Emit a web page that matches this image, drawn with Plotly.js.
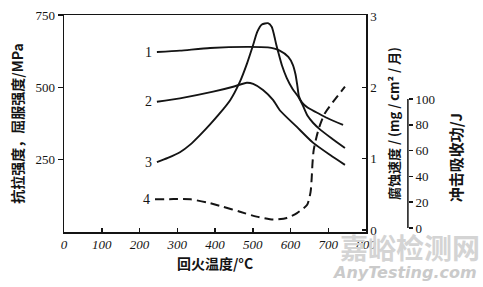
<!DOCTYPE html>
<html>
<head>
<meta charset="utf-8">
<script src="https://cdn.plot.ly/plotly-3.0.1.min.js"></script>
<style>html,body{margin:0;padding:0;background:#fff;}#chart{width:483px;height:287px;}</style>
</head>
<body>
<div id="chart"></div>
<script>
// Curve 1: tensile strength (MPa, left axis)
const temp1 = [246, 307, 387, 485, 540, 570, 594, 606, 613, 618, 622, 630, 645, 668, 697, 739];
const tensile = [622, 627, 636, 640, 638, 628, 605, 578, 545, 505, 470, 448, 430, 414, 394, 370];
// Curve 2: yield strength (MPa, left axis)
const temp2 = [246, 307, 395, 448, 484, 501, 527, 554, 572, 616, 660, 705, 744];
const yieldStr = [450, 462, 485, 502, 516, 512, 491, 456, 420, 364, 308, 266, 232];
// Curve 3: corrosion rate (mg/cm²/month, right axis)
const temp3 = [246, 275, 307, 335, 360, 385, 410, 440, 466, 485, 500, 512, 524, 540, 550, 556, 562, 568, 577, 590, 605, 620, 632, 645, 660, 680, 710, 744];
const corrosion = [0.95, 1.01, 1.09, 1.20, 1.33, 1.47, 1.62, 1.82, 2.08, 2.34, 2.58, 2.78, 2.88, 2.90, 2.85, 2.74, 2.60, 2.48, 2.31, 2.13, 1.98, 1.87, 1.75, 1.60, 1.50, 1.40, 1.28, 1.15];
// Curve 4: impact energy (J, third axis)
const temp4 = [241, 290, 335, 378, 421, 466, 510, 554, 590, 617, 644, 653, 656, 658, 661, 669, 678, 691, 713, 744];
const impact = [22.2, 22.4, 22.2, 19.9, 16.5, 12.6, 8.8, 6.5, 7.8, 11.6, 18, 28, 39, 50, 60, 71, 80, 89, 98, 109.5];

const xTicks = [0, 100, 200, 300, 400, 500, 600, 700, 800];
const yTicks = [250, 500, 750];
const y2Ticks = [0, 1, 2, 3];
const y3Ticks = [0, 20, 40, 60, 80, 100];
const curveLabels = ['1', '2', '3', '4'];

const ink = '#141414';
const serif = 'Liberation Serif, DejaVu Serif, serif';
const cjk = 'Noto Sans CJK SC, sans-serif';
const lineStyle = {color: ink, width: 1.9, shape: 'spline', smoothing: 0.6};

const traces = [
  {x: temp1, y: tensile, type: 'scatter', mode: 'lines', line: lineStyle, yaxis: 'y', hoverinfo: 'skip'},
  {x: temp2, y: yieldStr, type: 'scatter', mode: 'lines', line: lineStyle, yaxis: 'y', hoverinfo: 'skip'},
  {x: temp3, y: corrosion, type: 'scatter', mode: 'lines', line: lineStyle, yaxis: 'y2', hoverinfo: 'skip'},
  {x: temp4, y: impact, type: 'scatter', mode: 'lines', line: Object.assign({}, lineStyle, {dash: '9px,5px', width: 2}), yaxis: 'y3', hoverinfo: 'skip'}
];

const y3Pos = 0.905;
const series = [[temp1, tensile, 'y'], [temp2, yieldStr, 'y'], [temp3, corrosion, 'y2'], [temp4, impact, 'y3']];
const annotations = series.map((s, i) => ({
  x: s[0][0], y: s[1][0], xref: 'x', yref: s[2], text: curveLabels[i], showarrow: false,
  xanchor: 'right', yanchor: 'middle', xshift: -3, font: {family: serif, size: 14, color: ink}
}));
// third-axis title, placed beside the impact-energy axis
annotations.push({
  x: 1.029, y: 54, xref: 'paper', yref: 'y3', text: '冲击吸收功/J', textangle: -90, showarrow: false,
  xanchor: 'center', yanchor: 'middle', font: {family: cjk, size: 15, color: ink, weight: 'bold'}
});
// watermark
annotations.push({
  x: 0.911, y: -0.07, xref: 'paper', yref: 'paper', text: '嘉峪检测网', showarrow: false,
  xanchor: 'center', yanchor: 'middle',
  font: {family: cjk, size: 28, color: '#d4d4d4', weight: 'bold'}
});
annotations.push({
  x: 0.897, y: -0.185, xref: 'paper', yref: 'paper', text: 'AnyTesting.com', showarrow: false,
  xanchor: 'center', yanchor: 'middle',
  font: {family: 'DejaVu Sans, sans-serif', size: 16, color: '#cacaca', style: 'italic', weight: 'bold'}
});

const axisCommon = {showgrid: false, zeroline: false, linecolor: ink, linewidth: 1.5, tickcolor: ink, tickwidth: 1.5};

const layout = {
  width: 483, height: 287,
  margin: {l: 64, r: 39, t: 15, b: 55},
  paper_bgcolor: '#fff', plot_bgcolor: '#fff',
  showlegend: false,
  xaxis: Object.assign({}, axisCommon, {
    domain: [0, 0.795], range: [0, 800], tickvals: xTicks, ticks: 'inside', ticklen: 4,
    showline: true, mirror: true,
    tickfont: {family: serif, size: 13, color: ink, style: 'italic'},
    title: {text: '回火温度/°C', font: {family: cjk, size: 14, color: ink, weight: 'bold'}, standoff: 8}
  }),
  yaxis: Object.assign({}, axisCommon, {
    range: [0, 750], tickvals: yTicks, ticks: 'outside', ticklen: 5,
    showline: true, mirror: true,
    tickfont: {family: serif, size: 13, color: ink},
    title: {text: '抗拉强度，屈服强度/MPa', font: {family: cjk, size: 14, color: ink, weight: 'bold'}, standoff: 8}
  }),
  yaxis2: Object.assign({}, axisCommon, {
    overlaying: 'y', side: 'right', anchor: 'x', range: [-0.028, 3.014], tickvals: y2Ticks,
    ticks: 'inside', ticklen: 4, showline: true,
    tickfont: {family: serif, size: 13, color: ink},
    title: {text: '腐蚀速度 / (mg / cm² / 月)', font: {family: cjk, size: 13, color: ink, weight: 'bold'}, standoff: 14}
  }),
  yaxis3: Object.assign({}, axisCommon, {
    overlaying: 'y', side: 'right', anchor: 'free', position: y3Pos, range: [-3.1, 165.1], tickvals: y3Ticks,
    ticks: 'outside', ticklen: 4, showline: false,
    tickfont: {family: serif, size: 13, color: ink}
  }),
  shapes: [{type: 'line', xref: 'paper', yref: 'y3', x0: y3Pos, x1: y3Pos, y0: y3Ticks[0], y1: y3Ticks[y3Ticks.length - 1], line: {color: ink, width: 1.5}}],
  annotations: annotations
};

Plotly.newPlot('chart', traces, layout, {displayModeBar: false, staticPlot: true});
</script>
</body>
</html>
